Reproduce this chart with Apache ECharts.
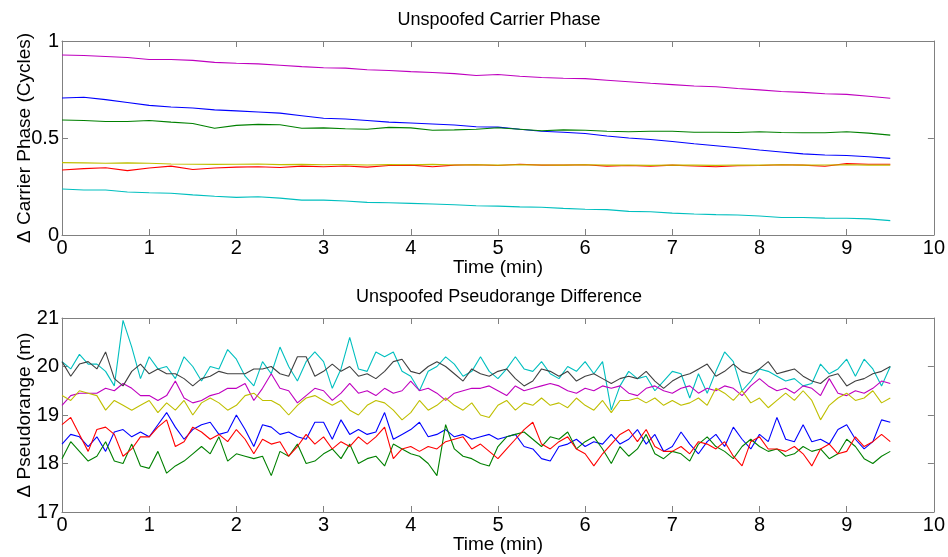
<!DOCTYPE html>
<html>
<head>
<meta charset="utf-8">
<script src="https://cdn.jsdelivr.net/npm/echarts@6/dist/echarts.min.js"></script>
<style>
html,body{margin:0;padding:0;background:#fff;}
#chart{width:948px;height:557px;}
</style>
</head>
<body>
<div id="chart"></div>
<script>
// ---------- Top panel: carrier phase (cycles) ----------
const cpTime = [0,0.25,0.5,0.75,1,1.25,1.5,1.75,2,2.25,2.5,2.75,3,3.25,3.5,3.75,4,4.25,4.5,4.75,5,5.25,5.5,5.75,6,6.25,6.5,6.75,7,7.25,7.5,7.75,8,8.25,8.5,8.75,9,9.25,9.5];
const cpMagenta = [0.928,0.925,0.92,0.915,0.905,0.905,0.9,0.89,0.885,0.882,0.875,0.868,0.862,0.86,0.852,0.848,0.842,0.838,0.832,0.822,0.827,0.818,0.812,0.808,0.806,0.798,0.79,0.782,0.775,0.768,0.764,0.755,0.748,0.74,0.735,0.728,0.725,0.715,0.705];
const cpBlue = [0.706,0.71,0.698,0.683,0.668,0.66,0.655,0.645,0.64,0.634,0.628,0.615,0.602,0.598,0.59,0.582,0.577,0.572,0.567,0.558,0.556,0.545,0.535,0.53,0.523,0.51,0.5,0.492,0.482,0.47,0.46,0.45,0.438,0.428,0.418,0.412,0.41,0.403,0.395];
const cpGreen = [0.593,0.59,0.585,0.585,0.59,0.582,0.575,0.55,0.565,0.57,0.568,0.55,0.552,0.548,0.545,0.555,0.552,0.54,0.542,0.545,0.553,0.545,0.537,0.542,0.54,0.535,0.532,0.535,0.535,0.53,0.53,0.528,0.532,0.528,0.527,0.527,0.532,0.525,0.515];
const cpYellow = [0.373,0.372,0.37,0.372,0.37,0.366,0.365,0.364,0.365,0.366,0.363,0.364,0.362,0.363,0.361,0.363,0.362,0.364,0.361,0.362,0.36,0.362,0.361,0.36,0.362,0.36,0.361,0.359,0.361,0.36,0.359,0.361,0.36,0.362,0.36,0.361,0.362,0.36,0.36];
const cpRed = [0.335,0.342,0.347,0.332,0.345,0.355,0.338,0.345,0.35,0.352,0.348,0.355,0.352,0.356,0.35,0.358,0.36,0.352,0.36,0.362,0.358,0.365,0.36,0.36,0.362,0.355,0.358,0.355,0.36,0.356,0.352,0.357,0.358,0.362,0.36,0.354,0.368,0.365,0.365];
const cpCyan = [0.237,0.232,0.232,0.222,0.218,0.215,0.207,0.2,0.194,0.197,0.19,0.18,0.18,0.175,0.168,0.166,0.163,0.16,0.156,0.151,0.149,0.145,0.143,0.137,0.133,0.131,0.122,0.12,0.113,0.108,0.105,0.103,0.098,0.09,0.09,0.087,0.086,0.083,0.074];

// ---------- Bottom panel: pseudorange difference (m) ----------
const prTime = [0,0.1,0.2,0.3,0.4,0.5,0.6,0.7,0.8,0.9,
1,1.1,1.2,1.3,1.4,1.5,1.6,1.7,1.8,1.9,
2,2.1,2.2,2.3,2.4,2.5,2.6,2.7,2.8,2.9,
3,3.1,3.2,3.3,3.4,3.5,3.6,3.7,3.8,3.9,
4,4.1,4.2,4.3,4.4,4.5,4.6,4.7,4.8,4.9,
5,5.1,5.2,5.3,5.4,5.5,5.6,5.7,5.8,5.9,
6,6.1,6.2,6.3,6.4,6.5,6.6,6.7,6.8,6.9,
7,7.1,7.2,7.3,7.4,7.5,7.6,7.7,7.8,7.9,
8,8.1,8.2,8.3,8.4,8.5,8.6,8.7,8.8,8.9,
9,9.1,9.2,9.3,9.4,9.5];
const prCyan = [20.1,19.95,20.25,20.05,20.05,19.9,19.6,20.95,20.4,19.75,
20.2,19.95,20.0,19.75,20.2,20.0,19.7,20.0,19.95,20.35,
20.15,19.8,19.6,20.1,19.85,20.4,20.0,19.7,20.1,20.3,
20.1,19.55,19.95,20.6,19.95,19.9,20.3,20.2,20.3,19.9,
19.8,19.5,19.9,20.0,20.2,20.05,19.8,19.9,20.2,19.9,
19.75,19.95,20.2,19.95,19.9,20.1,19.85,19.75,20.0,19.9,
20.1,19.85,20.1,19.1,19.6,19.9,19.75,19.8,19.5,19.7,
19.9,19.85,19.35,19.85,19.45,19.9,20.3,20.1,19.5,19.7,
19.95,19.9,19.8,19.7,19.75,19.6,19.65,20.05,19.85,19.95,
20.15,19.8,20.15,19.95,19.6,20.0];
const prGray = [20.1,19.8,20.05,20.1,19.95,20.3,19.75,19.6,19.9,20.05,
19.85,19.95,19.85,19.85,19.75,19.6,19.75,19.8,19.9,19.85,
19.85,19.85,19.95,19.95,20.0,19.85,19.8,20.2,20.2,19.8,
19.9,20.05,19.9,20.0,19.8,19.85,19.75,19.9,20.1,20.15,
19.9,19.85,20.0,20.1,20.0,19.85,19.7,19.95,19.85,19.8,
19.9,19.95,19.75,19.6,19.7,19.95,19.9,19.8,19.9,19.7,
19.8,19.85,19.75,19.65,19.75,19.8,19.75,19.9,19.7,19.55,
19.7,19.8,19.85,19.95,20.05,19.8,19.9,20.05,19.9,19.85,
19.95,20.1,19.85,19.9,19.95,19.8,19.7,19.65,19.8,19.85,
19.6,19.7,19.75,19.85,19.9,20.0];
const prMagenta = [19.2,19.4,19.45,19.45,19.45,19.55,19.5,19.65,19.55,19.4,
19.4,19.3,19.4,19.7,19.35,19.25,19.3,19.4,19.45,19.55,
19.55,19.65,19.3,19.55,19.85,19.55,19.5,19.25,19.4,19.55,
19.5,19.3,19.45,19.65,19.45,19.5,19.4,19.55,19.45,19.5,
19.7,19.5,19.55,19.45,19.3,19.45,19.5,19.55,19.55,19.6,
19.5,19.4,19.6,19.5,19.55,19.6,19.65,19.6,19.5,19.45,
19.55,19.5,19.6,19.55,19.6,19.45,19.4,19.55,19.6,19.5,
19.45,19.55,19.6,19.45,19.55,19.5,19.6,19.55,19.4,19.6,
19.75,19.6,19.5,19.55,19.45,19.6,19.55,19.4,19.75,19.45,
19.4,19.5,19.45,19.55,19.7,19.65];
const prYellow = [19.4,19.3,19.5,19.45,19.4,19.1,19.3,19.2,19.1,19.2,
19.3,19.05,19.25,19.1,19.3,19.0,19.25,19.35,19.25,19.1,
19.2,19.4,19.45,19.3,19.3,19.2,19.0,19.2,19.35,19.4,
19.3,19.2,19.3,19.1,19.0,19.2,19.3,19.25,19.1,18.9,
19.05,19.3,19.1,19.2,19.35,19.2,19.1,19.25,19.0,18.95,
19.2,19.3,19.1,19.25,19.2,19.35,19.2,19.25,19.15,19.35,
19.2,19.1,19.3,19.05,19.3,19.3,19.35,19.25,19.35,19.2,
19.3,19.2,19.25,19.35,19.2,19.55,19.45,19.3,19.5,19.25,
19.35,19.15,19.3,19.45,19.3,19.5,19.3,18.9,19.2,19.35,
19.45,19.3,19.35,19.5,19.25,19.35];
const prBlue = [18.4,18.6,18.55,18.35,18.55,18.25,18.65,18.7,18.55,18.65,
18.55,18.8,19.05,18.75,18.5,18.7,18.8,18.85,18.6,18.65,
19.0,18.7,18.35,18.8,18.75,18.6,18.65,18.55,18.5,18.85,
18.85,18.5,18.9,18.6,18.7,18.6,18.65,19.05,18.5,18.6,
18.7,18.85,18.55,18.6,18.7,18.55,18.6,18.5,18.55,18.6,
18.5,18.55,18.6,18.35,18.3,18.1,18.05,18.35,18.4,18.5,
18.35,18.45,18.4,18.6,18.4,18.5,18.7,18.4,18.6,18.25,
18.35,18.65,18.4,18.2,18.45,18.6,18.35,18.75,18.5,18.3,
18.6,18.45,18.95,18.5,18.45,18.8,18.45,18.5,18.4,18.7,
18.8,18.5,18.3,18.45,18.9,18.85];
const prRed = [18.8,18.95,18.6,18.25,18.7,18.75,18.6,18.15,18.3,18.55,
18.55,18.75,18.9,18.35,18.45,18.75,18.65,18.5,18.6,18.45,
18.7,18.5,18.2,18.5,18.4,18.45,18.15,18.35,18.6,18.4,
18.55,18.3,18.45,18.35,18.55,18.4,18.55,18.75,18.1,18.3,
18.35,18.25,18.35,18.3,18.45,18.5,18.55,18.3,18.4,18.25,
18.1,18.3,18.5,18.7,18.85,18.4,18.3,18.45,18.55,18.3,
18.2,17.95,18.2,18.4,18.6,18.7,18.45,18.7,18.35,18.25,
18.25,18.35,18.2,18.45,18.4,18.3,18.45,18.15,17.95,18.45,
18.55,18.3,18.3,18.25,18.35,18.2,17.95,18.3,18.4,18.2,
18.25,18.55,18.35,18.45,18.6,18.45];
const prGreen = [18.1,18.45,18.25,18.05,18.15,18.45,18.05,18.0,18.4,17.95,
17.9,18.25,17.8,17.95,18.05,18.2,18.35,18.2,18.55,18.05,
18.2,18.15,18.1,18.15,17.75,18.25,18.15,18.4,18.0,18.05,
18.2,18.3,18.1,18.4,18.0,18.1,18.15,17.95,18.4,18.3,
18.2,18.15,18.0,17.75,18.8,18.3,18.15,18.1,18.0,17.95,
18.35,18.55,18.6,18.65,18.5,18.35,18.55,18.5,18.65,18.3,
18.45,18.55,18.3,18.0,18.35,18.15,18.3,18.6,18.2,18.1,
18.25,18.2,18.05,18.4,18.55,18.35,18.25,18.1,18.35,18.5,
18.35,18.25,18.3,18.15,18.2,18.35,18.25,18.3,18.1,18.2,
18.5,18.35,18.1,18.0,18.15,18.25];

const AX = '#808080';
const FONT = 'Liberation Sans, Arial, sans-serif';
const pair = (xs, ys) => xs.map((x, i) => [x, ys[i]]);

function mainX(gi, name) {
  return {
    type: 'value', gridIndex: gi, min: 0, max: 10, interval: 1, position: 'bottom',
    name: name, nameLocation: 'middle', nameGap: 23, nameMoveOverlap: false,
    nameTextStyle: { color: '#000', fontSize: 19, fontFamily: FONT },
    axisLine: { show: true, onZero: false, lineStyle: { color: AX, width: 1 } },
    axisTick: { show: true, inside: true, length: 6, lineStyle: { color: AX } },
    axisLabel: { color: '#000', fontSize: 20, fontFamily: FONT, margin: 3 },
    splitLine: { show: false }
  };
}
function boxX(gi) {
  return {
    type: 'value', gridIndex: gi, min: 0, max: 10, interval: 1, position: 'top',
    axisLine: { show: true, onZero: false, lineStyle: { color: AX, width: 1 } },
    axisTick: { show: true, inside: true, length: 6, lineStyle: { color: AX } },
    axisLabel: { show: false }, splitLine: { show: false }
  };
}
function mainY(gi, min, max, interval, name) {
  return {
    type: 'value', gridIndex: gi, min: min, max: max, interval: interval, position: 'left',
    name: name, nameLocation: 'middle', nameGap: 28, nameRotate: 90, nameMoveOverlap: false,
    nameTextStyle: { color: '#000', fontSize: 19, fontFamily: FONT },
    axisLine: { show: true, onZero: false, lineStyle: { color: AX, width: 1 } },
    axisTick: { show: true, inside: true, length: 6, lineStyle: { color: AX } },
    axisLabel: { color: '#000', fontSize: 20, fontFamily: FONT, margin: 3 },
    splitLine: { show: false }
  };
}
function boxY(gi, min, max, interval) {
  return {
    type: 'value', gridIndex: gi, min: min, max: max, interval: interval, position: 'right',
    axisLine: { show: true, onZero: false, lineStyle: { color: AX, width: 1 } },
    axisTick: { show: true, inside: true, length: 6, lineStyle: { color: AX } },
    axisLabel: { show: false }, splitLine: { show: false }
  };
}
function line(name, xs, ys, color, xi, yi) {
  return {
    name: name, type: 'line', xAxisIndex: xi, yAxisIndex: yi,
    data: pair(xs, ys), showSymbol: false, symbol: 'none', smooth: false,
    lineStyle: { color: color, width: 1.1 }, itemStyle: { color: color },
    animation: false, z: 3
  };
}

const C = { blue: '#0000ff', green: '#008000', red: '#ff0000', cyan: '#00bfbf', magenta: '#bf00bf', yellow: '#bfbf00', gray: '#404040' };

const chart = echarts.init(document.getElementById('chart'), null, { renderer: 'canvas' });
chart.setOption({
  animation: false,
  backgroundColor: '#fff',
  grid: [
    { left: 62, right: 12, top: 41, height: 194 },
    { left: 62, right: 12, top: 318, height: 194 }
  ],
  xAxis: [mainX(0, 'Time (min)'), boxX(0), mainX(1, 'Time (min)'), boxX(1)],
  yAxis: [
    mainY(0, 0, 1, 0.5, 'Δ Carrier Phase (Cycles)'), boxY(0, 0, 1, 0.5),
    mainY(1, 17, 21, 1, 'Δ Pseudorange (m)'), boxY(1, 17, 21, 1)
  ],
  graphic: [
    { type: 'text', x: 499, y: 20, style: { text: 'Unspoofed Carrier Phase', fill: '#000', font: '18px ' + FONT, textAlign: 'center', textVerticalAlign: 'middle' } },
    { type: 'text', x: 499, y: 297, style: { text: 'Unspoofed Pseudorange Difference', fill: '#000', font: '18px ' + FONT, textAlign: 'center', textVerticalAlign: 'middle' } }
  ],
  series: [
    line('blue', cpTime, cpBlue, C.blue, 0, 0),
    line('green', cpTime, cpGreen, C.green, 0, 0),
    line('red', cpTime, cpRed, C.red, 0, 0),
    line('cyan', cpTime, cpCyan, C.cyan, 0, 0),
    line('magenta', cpTime, cpMagenta, C.magenta, 0, 0),
    line('yellow', cpTime, cpYellow, C.yellow, 0, 0),
    line('blue', prTime, prBlue, C.blue, 2, 2),
    line('green', prTime, prGreen, C.green, 2, 2),
    line('red', prTime, prRed, C.red, 2, 2),
    line('cyan', prTime, prCyan, C.cyan, 2, 2),
    line('magenta', prTime, prMagenta, C.magenta, 2, 2),
    line('yellow', prTime, prYellow, C.yellow, 2, 2),
    line('gray', prTime, prGray, C.gray, 2, 2)
  ]
});
</script>
</body>
</html>
